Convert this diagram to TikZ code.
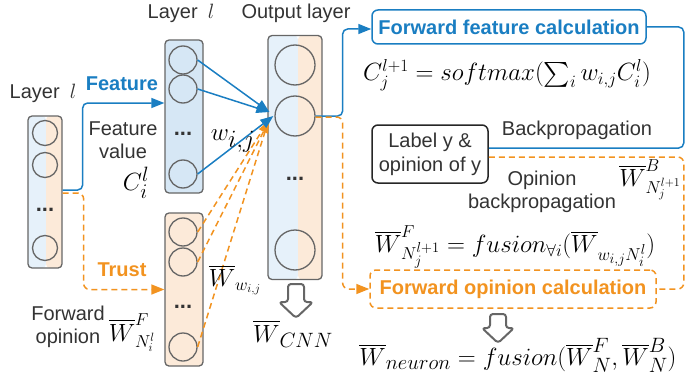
\documentclass[tikz,border=0pt]{standalone}
\usepackage{amsmath}
\usepackage{fontspec}
\setmainfont{Liberation Sans}
\usetikzlibrary{arrows.meta}

\definecolor{featblue}{HTML}{1A7EC2}
\definecolor{trustorange}{HTML}{F29320}
\definecolor{paleblue}{HTML}{E6F1FA}
\definecolor{midblue}{HTML}{D6E7F5}
\definecolor{paleorange}{HTML}{FCEAD9}
\definecolor{rimgray}{HTML}{666666}

\newcommand{\sz}[1]{\fontsize{#1}{#1}\selectfont}

\tikzset{
  neuron/.style={circle, draw=rimgray, line width=1.3pt, minimum size=25pt, inner sep=0pt},
  midneuron/.style={neuron, minimum size=28pt},
  outneuron/.style={neuron, minimum size=40pt},
  layerbox/.style={draw=rimgray, line width=1.3pt, rounded corners=4pt, inner sep=0pt},
  splitfill/.style={path picture={
    \fill[paleblue] (path picture bounding box.south west) rectangle ([xshift=#1]path picture bounding box.north);
    \fill[paleorange] ([xshift=#1]path picture bounding box.south) rectangle (path picture bounding box.north east);}},
  featline/.style={draw=featblue, line width=1.5pt, rounded corners=5pt},
  trustline/.style={draw=trustorange, line width=1.5pt, dash pattern=on 6pt off 4pt, rounded corners=6pt},
  bigtip/.style={-{Triangle[length=13pt,width=10pt]}},
  calcbox/.style={rounded corners=6pt, line width=1.5pt, inner sep=0pt, font=\fontsize{20}{24}\selectfont\bfseries},
  dots/.style={font=\fontsize{22}{22}\selectfont\bfseries, text=black!80},
  lbl/.style={text=black!80, font=\fontsize{20}{23}\selectfont, align=center},
  formula/.style={inner sep=0pt},
  hollowarrow/.style={draw=rimgray, line width=2pt, rounded corners=3pt, line join=round},
}

\begin{document}
\begin{tikzpicture}[x=1pt, y=-1pt]
  \useasboundingbox (0,0) rectangle (692,377);

  % layers
  \node[layerbox, splitfill=1pt, minimum width=34pt, minimum height=152pt] (lay1) at (45,192) {};
  \node[neuron] (a1) at (45,133) {};
  \node[neuron] (a2) at (45,165) {};
  \node[dots] (a3) at (45,210) {...};
  \node[neuron] (a4) at (45,248) {};

  \node[layerbox, fill=midblue, minimum width=38pt, minimum height=153pt] (lay2) at (184,116.5) {};
  \node[midneuron] (b1) at (183,60) {};
  \node[midneuron] (b2) at (183,89) {};
  \node[dots] (b3) at (183,134) {...};
  \node[midneuron] (b4) at (183,174) {};

  \node[layerbox, fill=paleorange, minimum width=38pt, minimum height=153pt] (lay3) at (184,289.5) {};
  \node[midneuron] (c1) at (183,232) {};
  \node[midneuron] (c2) at (183,262) {};
  \node[dots] (c3) at (183,307) {...};
  \node[midneuron] (c4) at (183,347) {};

  \node[layerbox, splitfill=3pt, minimum width=54pt, minimum height=244pt] (lay4) at (295,157.5) {};
  \node[outneuron] (o1) at (295,65) {};
  \node[outneuron] (o2) at (295,116) {};
  \node[dots] (o3) at (295,179) {...};
  \node[outneuron] (o4) at (295,250) {};

  % layer labels
  \node[lbl] (lab1) at (43,93) {Layer\enspace$l$};
  \node[lbl] (lab2) at (181,13) {Layer\enspace$l$};
  \node[lbl] (lab4) at (296,13) {Output layer};

  % left side
  \draw[featline, bigtip] ([yshift=2pt]lay1.east) -- ++(20,0) |- ([yshift=13.5pt]lay2.west);
  \draw[trustline, bigtip] ([yshift=-1pt]lay1.east) -- ++(21,0) |- (lay3.west);
  \node[lbl, text=featblue, font=\fontsize{20}{23}\selectfont\bfseries] (featlab) at (122,84) {Feature};
  \node[lbl, text=trustorange, font=\fontsize{20}{23}\selectfont\bfseries] (trustlab) at (122,270) {Trust};
  \node[lbl] (fvlab) at (123,140) {Feature\\value};
  \node[formula] (cil) at (136,183) {\sz{28}$C_i^l$};
  \node[lbl] (folab) at (68,327) {Forward\\opinion};
  \node[formula] (wfl) at (132,333) {\sz{26}$\overline{W}^F_{N_i^l}$};

  % weights
  \draw[trustline] (c1.east) -- ([shift={(-6pt,-5pt)}]o2.west);
  \draw[trustline, bigtip] (c2.east) -- ([shift={(-5pt,-4pt)}]o2.west);
  \draw[trustline] (c4.east) -- ([shift={(-6pt,-5pt)}]o2.west);
  \draw[featline, bigtip] (b1.east) -- ([shift={(-5pt,4pt)}]o2.west);
  \draw[featline, bigtip] (b2.east) -- ([shift={(-5pt,4pt)}]o2.west);
  \draw[featline, bigtip] (b4.east) -- ([shift={(-1pt,0pt)}]o2.west);
  \node[formula] (wij) at (233,141) {\sz{37}$w_{i,j}$};
  \node[formula] (wwij) at (235,280) {\sz{26}$\overline{W}_{w_{i,j}}$};

  \draw[hollowarrow, shift={(296,284)}] (-8,0) -- (8,0) -- (8,18) -- (17,18) -- (0,34) -- (-17,18) -- (-8,18) -- cycle;
  \node[formula] (wcnn) at (293,334) {\sz{28}$\overline{W}_{CNN}$};

  % right side
  \node[calcbox, draw=featblue, text=featblue, minimum width=274pt, minimum height=34pt] (ffc) at (509,27) {Forward feature calculation};
  \node[calcbox, draw=trustorange, text=trustorange, dash pattern=on 6pt off 4pt, minimum width=286pt, minimum height=38pt] (foc) at (513,289) {Forward opinion calculation};
  \node[lbl, draw=black!85, line width=1.5pt, rounded corners=6pt, minimum width=116pt, minimum height=58pt, inner sep=0pt] (ybox) at (430,154) {Label y \&\\[1pt]opinion of y};

  \draw[featline, bigtip] (o2.east) -- ++(27,0) |- ([yshift=-2pt]ffc.west);
  \draw[trustline, bigtip] ([yshift=-1pt]o2.east) -- ++(27,0) |- (foc.west);
  \draw[featline] (ffc.east) -- ++(37,0) |- ([yshift=6pt]ybox.east);
  \draw[trustline] ([yshift=-3pt]ybox.east) -- ++(195,0) |- (foc.east);

  \node[formula] (fsoft) at (507,75) {\sz{27}$C_j^{l+1} = softmax(\sum_i w_{i,j} C_i^l)$};
  \node[lbl] (bplab) at (577,130) {Backpropagation};
  \node[lbl] (obplab) at (542,192) {Opinion\\backpropagation};
  \node[formula] (wbl) at (650,180) {\sz{26}$\overline{W}^B_{N_j^{l+1}}$};
  \node[formula] (ffus) at (515,247) {\sz{27}$\overline{W}^F_{N_j^{l+1}} = fusion_{\forall i}(\overline{W}_{w_{i,j}N_i^l})$};

  \draw[hollowarrow, shift={(498,314)}] (-8,0) -- (8,0) -- (8,14) -- (16,14) -- (0,29) -- (-16,14) -- (-8,14) -- cycle;
  \node[formula] (fneu) at (518,355) {\sz{28.5}$\overline{W}_{neuron} = fusion(\overline{W}^F_N, \overline{W}^B_N)$};
\end{tikzpicture}
\end{document}
